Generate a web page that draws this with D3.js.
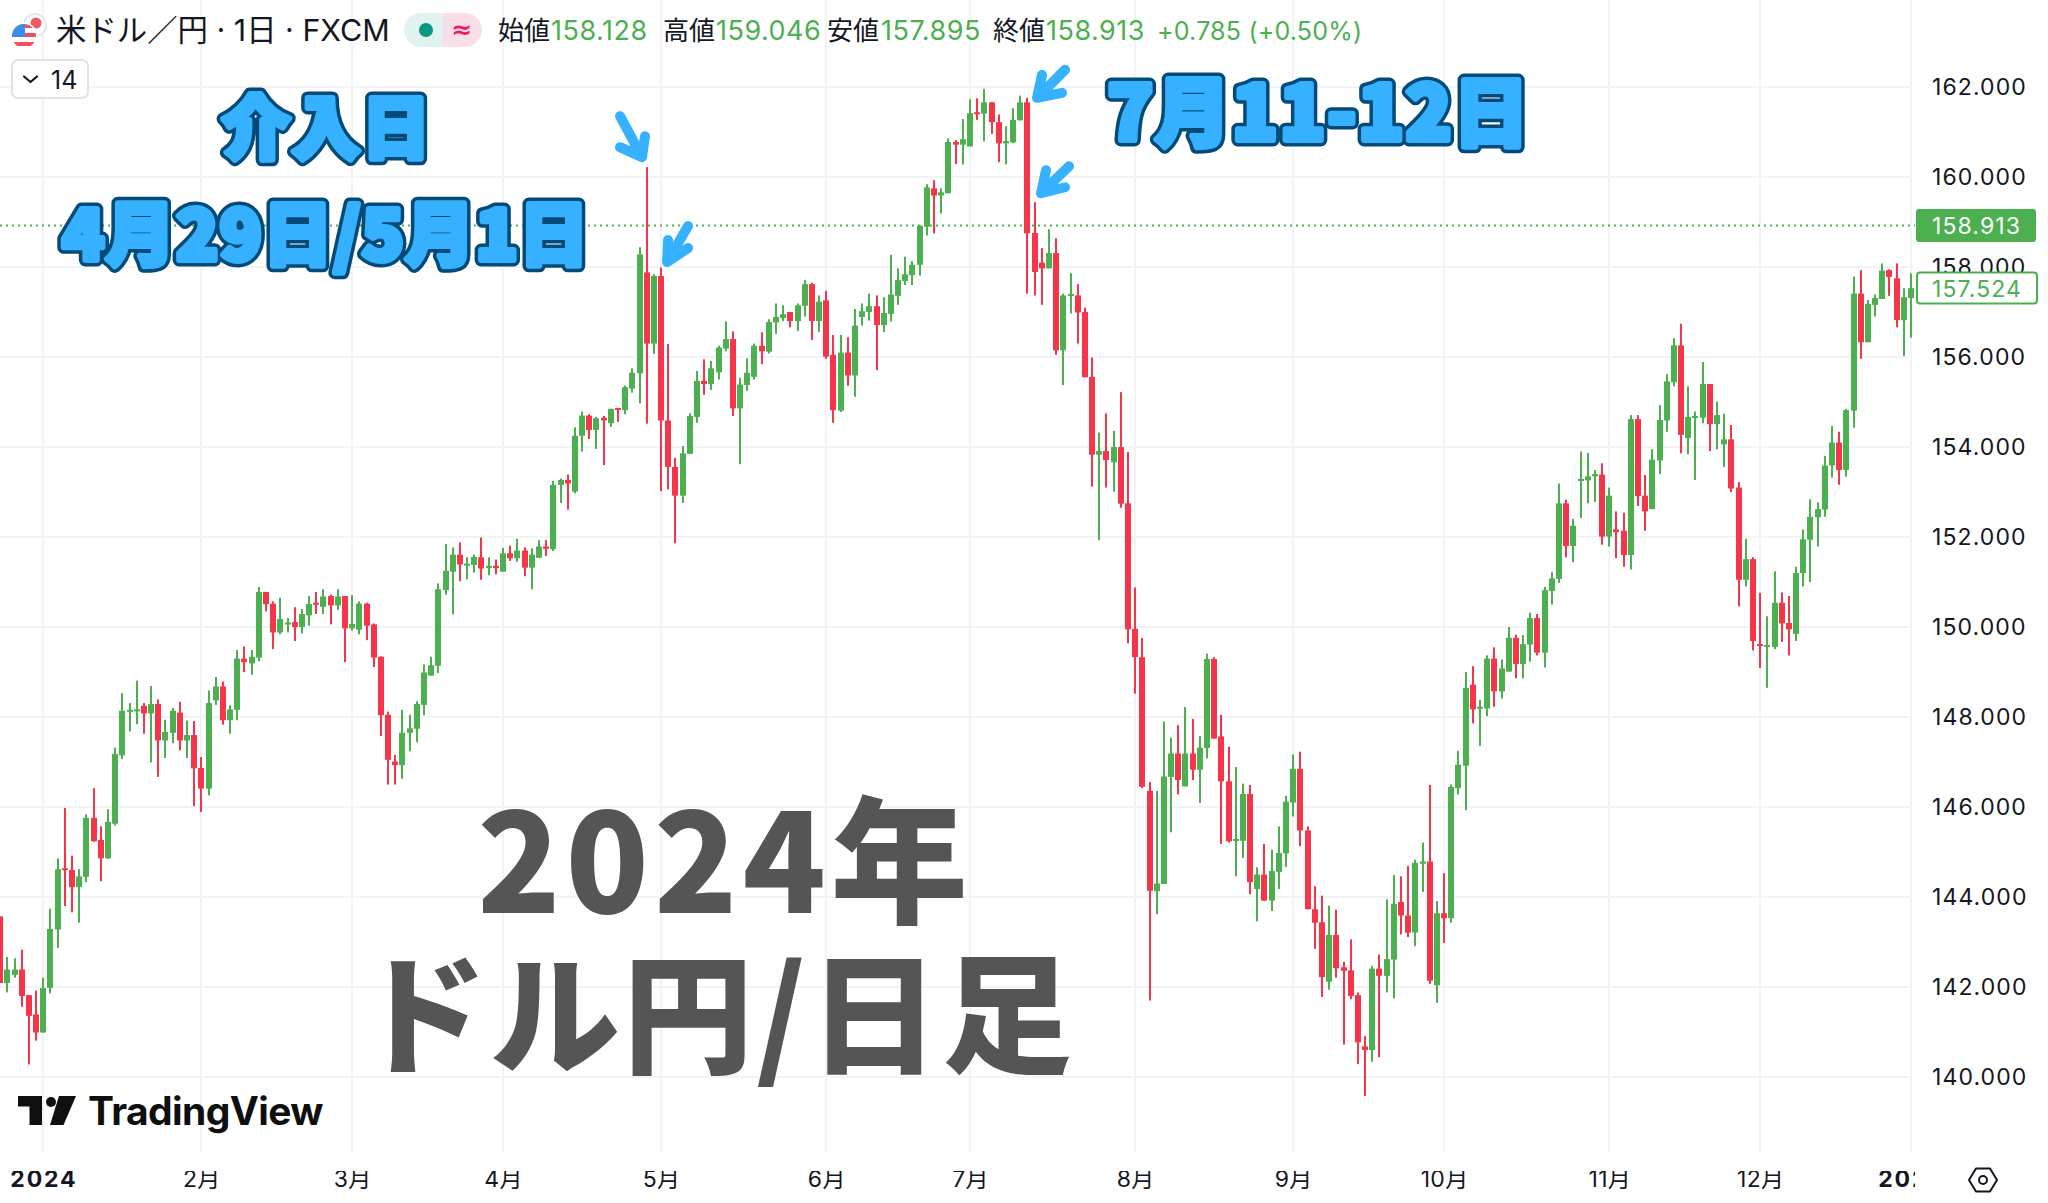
<!DOCTYPE html>
<html lang="ja">
<head>
<meta charset="utf-8">
<title>米ドル／円 2024年 日足</title>
<script src="https://cdn.jsdelivr.net/npm/d3@7/dist/d3.min.js"></script>
<style>
html,body{margin:0;padding:0;background:#fff;overflow:hidden}
svg{display:block}
text{font-family:Inter,"Noto Sans CJK JP",sans-serif}
</style>
</head>
<body>
<svg id="chart" width="2048" height="1203"></svg>
<script>
const opens = [
143.56,142.08,142.26,142.38,141.81,141.38,140.98,141.97,143.27,144.63,
144.59,144.21,144.44,145.75,145.26,144.85,145.62,147.14,148.12,148.13,
148.24,148.07,148.28,147.47,147.64,148.09,147.47,147.59,146.86,146.40,
148.36,148.67,147.92,148.15,149.29,149.18,149.31,150.77,150.51,149.87,
150.05,150.10,149.99,150.25,150.53,150.44,150.68,150.47,150.68,149.96,
149.93,150.51,150.05,149.33,148.04,147.00,146.92,147.64,147.73,148.26,
148.91,149.13,150.81,151.22,151.60,151.37,151.37,151.54,151.30,151.35,
151.22,151.63,151.52,151.69,151.31,151.53,151.78,151.72,153.15,153.26,
153.00,154.24,154.69,154.37,154.64,154.52,154.86,154.81,155.29,155.63,
157.87,156.29,157.79,154.58,153.55,152.91,153.84,154.66,155.46,155.39,
155.65,156.18,156.39,154.85,155.37,155.55,156.24,156.11,156.76,156.86,
156.99,156.79,157.13,157.61,156.79,157.25,156.04,154.80,156.09,155.58,
156.88,156.99,157.12,156.70,156.95,157.35,157.68,157.81,158.04,158.89,
159.74,159.58,159.63,160.77,160.71,160.67,161.43,161.40,161.65,161.21,
160.74,160.76,161.25,161.65,158.75,158.09,157.96,158.30,156.14,157.36,
157.36,156.99,155.55,153.82,153.90,153.65,153.99,152.74,149.95,149.32,
146.35,144.12,144.28,146.66,147.18,146.45,147.18,146.82,147.30,149.28,
147.56,146.56,145.24,145.24,146.28,144.17,144.49,143.91,144.55,144.96,
146.09,146.84,145.47,143.72,143.43,142.11,143.15,142.43,142.36,141.81,
140.67,140.59,142.40,142.24,142.60,143.88,143.58,143.20,144.73,144.78,
142.03,143.63,143.52,146.41,146.91,148.71,148.18,148.18,149.29,148.56,
149.00,149.75,149.17,149.60,150.19,149.42,150.79,151.06,152.74,151.79,
153.24,153.25,153.34,153.38,152.00,152.16,152.13,151.59,154.61,152.91,
152.61,153.69,154.58,155.43,156.25,154.19,154.64,154.64,155.39,154.50,
154.05,154.16,153.09,151.04,151.50,149.61,149.55,149.55,150.53,150.08,
149.84,151.19,151.93,152.43,152.60,153.58,154.09,153.48,154.80,157.40,
156.32,157.15,157.28,157.92,157.74,156.81,157.30];
const highs = [
143.56,142.66,142.63,142.82,141.81,141.91,142.20,143.73,144.85,145.97,
144.91,144.61,145.83,146.41,145.56,145.94,147.31,148.52,148.30,148.80,
148.30,148.68,148.38,147.93,148.19,148.33,147.91,147.90,147.10,148.58,
148.88,148.78,148.25,149.48,149.56,149.48,150.88,150.77,150.56,150.64,
150.19,150.43,150.39,150.68,150.77,150.83,150.71,150.83,150.68,150.70,
150.56,150.53,150.07,149.34,148.11,147.15,148.15,148.04,148.34,149.16,
149.33,150.96,151.83,151.76,151.87,151.54,151.60,151.98,151.54,151.49,
151.75,151.80,151.95,151.76,151.74,151.92,151.92,153.24,153.29,153.38,
154.43,154.78,154.72,154.66,154.68,154.84,154.86,155.36,155.74,158.43,
160.21,157.83,157.98,156.28,153.75,154.01,154.74,155.68,155.94,155.90,
156.24,156.78,156.56,155.53,155.96,156.29,156.54,156.83,157.18,157.14,
156.99,157.18,157.70,157.64,157.36,157.46,156.48,156.48,156.43,157.06,
157.18,157.40,157.36,157.32,158.26,157.96,158.22,158.12,158.91,159.83,
159.92,159.74,160.85,160.81,161.28,161.72,161.74,161.95,161.66,161.38,
161.12,161.52,161.80,161.75,159.43,158.41,158.83,158.63,157.40,157.85,
157.61,157.09,155.98,154.31,154.74,154.35,155.21,153.88,150.87,149.75,
146.55,146.35,147.89,147.53,147.81,148.21,147.95,147.57,149.40,149.32,
148.04,147.33,146.88,146.51,146.48,144.65,145.17,145.04,145.56,146.24,
147.16,147.22,145.56,144.23,144.02,143.80,143.71,142.55,143.05,141.87,
140.90,142.46,142.71,143.94,144.48,144.45,144.68,144.82,145.20,146.48,
143.90,144.52,146.49,147.24,148.99,149.12,148.37,149.36,149.54,149.27,
149.99,149.82,149.81,150.31,150.28,150.88,151.21,153.18,152.82,152.39,
153.89,153.86,153.48,153.63,153.09,152.56,152.53,154.70,154.70,153.37,
153.94,154.92,155.61,156.41,156.73,155.34,154.78,155.88,155.39,155.00,
154.73,154.48,153.21,151.95,151.54,150.75,150.23,151.23,150.76,150.68,
151.33,152.16,152.83,152.76,153.79,154.46,154.33,154.84,157.78,157.92,
157.26,157.38,158.07,157.94,158.07,157.52,157.85];
const lows = [
142.08,141.87,142.20,141.55,140.27,140.80,140.98,141.85,142.86,143.79,
143.65,143.42,144.32,145.22,144.34,144.84,145.58,147.06,147.67,147.83,
147.62,146.98,146.66,147.08,147.41,147.25,147.08,146.01,145.88,146.25,
148.26,147.82,147.62,147.92,148.99,148.93,149.23,150.34,149.50,149.83,
149.87,149.68,149.85,150.02,150.28,150.28,150.05,150.37,149.21,149.91,
149.83,149.70,149.10,147.57,146.49,146.49,146.62,147.23,147.43,148.03,
148.91,148.97,150.71,150.27,151.01,151.05,151.20,151.04,151.14,151.16,
151.22,151.46,151.44,151.12,150.83,151.53,151.57,151.68,152.75,152.60,
152.96,153.89,154.17,153.95,153.59,154.44,154.55,154.72,155.20,154.96,
154.51,156.06,153.01,153.05,151.85,152.75,153.84,154.53,155.15,155.26,
155.49,156.12,154.68,153.61,155.24,155.49,155.83,156.07,156.50,156.79,
156.65,156.57,156.89,156.37,156.55,155.95,154.53,154.77,155.35,155.11,
156.69,156.80,155.70,156.55,156.78,157.15,157.59,157.59,157.80,158.69,
158.74,159.18,159.63,160.28,160.27,160.67,161.26,160.78,160.95,160.32,
160.27,160.74,161.25,157.40,157.36,157.15,157.96,156.04,155.37,156.96,
156.29,155.54,153.11,151.92,153.09,153.00,152.64,149.63,148.51,146.41,
141.69,143.61,144.28,145.43,146.27,146.45,146.59,146.08,147.07,147.51,
145.17,145.20,144.45,144.86,144.05,143.45,143.91,143.68,144.17,144.66,
145.78,145.12,143.72,142.84,141.77,141.93,142.20,140.71,141.72,140.28,
139.57,140.33,140.43,141.87,141.74,143.16,143.10,142.90,144.10,142.06,
141.64,142.97,143.42,146.27,145.92,147.85,147.35,148.01,148.22,148.40,
149.00,148.85,148.85,149.22,149.36,149.09,150.49,150.97,151.54,151.43,
152.41,152.74,152.77,151.82,151.78,151.52,151.33,151.27,152.68,152.13,
152.61,153.39,154.33,155.34,153.85,153.83,153.26,154.52,153.90,153.94,
153.55,152.99,150.45,150.89,149.47,149.08,148.64,149.50,149.66,149.36,
149.68,150.89,150.99,151.78,152.44,153.31,153.15,153.33,154.42,155.95,
156.32,156.89,157.28,157.35,156.65,156.01,156.42];
const closes = [
142.08,142.38,142.38,141.79,141.35,140.98,141.97,143.28,144.61,144.60,
144.21,144.45,145.75,145.23,144.85,145.66,147.17,148.13,148.15,148.16,
148.07,148.28,147.47,147.66,148.13,147.47,147.59,146.85,146.40,148.30,
148.67,147.92,148.16,149.29,149.21,149.33,150.77,150.50,149.87,150.17,
150.09,149.99,150.28,150.50,150.50,150.67,150.47,150.67,149.96,150.06,
150.51,150.02,149.31,148.03,147.04,146.92,147.64,147.74,148.28,148.98,
149.14,150.83,151.24,151.60,151.38,151.40,151.55,151.29,151.35,151.30,
151.63,151.52,151.69,151.31,151.60,151.78,151.73,153.15,153.26,153.18,
154.24,154.69,154.37,154.63,154.58,154.84,154.84,155.32,155.64,158.27,
156.29,157.79,154.58,153.55,152.91,153.85,154.68,155.46,155.39,155.74,
156.20,156.39,154.85,155.38,155.64,156.24,156.12,156.77,156.88,156.94,
156.79,157.14,157.61,156.79,157.22,156.00,154.81,156.09,155.58,156.69,
157.01,157.12,156.70,156.97,157.38,157.70,157.83,158.04,158.91,159.76,
159.58,159.65,160.77,160.71,160.83,161.41,161.40,161.65,161.21,160.74,
160.79,161.26,161.65,158.74,157.88,157.96,158.30,156.14,157.36,157.39,
156.98,155.54,153.82,153.90,153.70,153.99,152.73,149.94,149.32,146.44,
144.13,144.29,146.67,147.18,146.59,147.18,146.82,147.31,149.28,147.51,
146.56,145.23,145.28,146.28,144.32,144.49,143.91,144.57,144.97,146.11,
146.84,145.47,143.72,143.42,142.21,143.15,142.41,142.35,141.79,140.76,
140.59,142.40,142.24,142.61,143.84,143.58,143.20,144.75,144.78,142.13,
143.63,143.52,146.44,146.93,148.64,148.16,148.22,149.29,148.56,149.07,
149.75,149.17,149.61,150.19,149.42,150.81,151.07,152.74,151.79,152.24,
153.28,153.34,153.39,152.00,152.91,152.10,151.59,154.61,152.90,152.56,
153.71,154.59,155.45,156.25,154.26,154.66,154.68,155.39,154.50,154.70,
154.16,153.07,151.04,151.50,149.68,149.57,149.59,150.53,150.07,149.94,
151.19,151.94,152.44,152.61,153.58,154.09,153.48,154.81,157.40,156.32,
157.17,157.30,157.91,157.77,156.81,157.32,157.52];

// index of the first trading bar of each month, and its axis label
const monthBars   = [6,28,49,70,92,115,135,158,180,201,224,245,266];
const monthLabels = ["2024","2月","3月","4月","5月","6月","7月","8月","9月","10月","11月","12月","2025"];
const priceTicks  = [140,142,144,146,148,150,152,154,156,158,160,162];
const lastPrice = 158.913;
const viewPrice = 157.524;
const legendLabels = ["始値","高値","安値","終値"];
const legendValues = ["158.128","159.046","157.895","158.913"];
const legendChange = ["+0.785","(+0.50%)"];

const GREEN="#4CAF50", RED="#F5364A", GRID="#F2F3F4", INK="#131722", BLUE="#36B1FF", NAVY="#034A78", TITLE="#555555";
const PANE_R=1915, PANE_B=1152;

const svg=d3.select("#chart");
const x=d3.scaleLinear().domain([6,266]).range([43.3,1911]);
const y=d3.scaleLinear().domain([140,162]).range([1076.6,86.6]);
svg.append("rect").attr("width",2048).attr("height",1203).attr("fill","#fff");
const defs=svg.append("defs");
defs.append("clipPath").attr("id","pane").append("rect").attr("width",PANE_R).attr("height",1203);

// grid
const grid=svg.append("g");
grid.selectAll(".gh").data(priceTicks).join("rect").attr("class","gh")
  .attr("x",0).attr("width",PANE_R-2).attr("y",d=>Math.round(y(d))-1).attr("height",2).attr("fill",GRID);
grid.selectAll(".gv").data(monthBars).join("rect").attr("class","gv")
  .attr("x",d=>Math.round(x(d))-1).attr("width",2).attr("y",0).attr("height",PANE_B).attr("fill",GRID);

// current price line
svg.append("line").attr("x1",0).attr("x2",PANE_R).attr("y1",y(lastPrice)).attr("y2",y(lastPrice))
  .attr("stroke",GREEN).attr("stroke-width",2).attr("stroke-dasharray","2 4");

// candles
const bars=opens.map((o,i)=>({i,o,h:highs[i],l:lows[i],c:closes[i]}));
const candles=svg.append("g").attr("clip-path","url(#pane)");
const color=d=>d.c>=d.o?GREEN:RED;
candles.selectAll(".wick").data(bars).join("rect").attr("class","wick")
  .attr("x",d=>Math.round(x(d.i))-1).attr("width",2)
  .attr("y",d=>y(d.h)).attr("height",d=>y(d.l)-y(d.h)).attr("fill",color);
candles.selectAll(".body").data(bars).join("rect").attr("class","body")
  .attr("x",d=>Math.round(x(d.i))-3).attr("width",6)
  .attr("y",d=>y(Math.max(d.o,d.c)))
  .attr("height",d=>Math.max(2,Math.abs(y(d.o)-y(d.c)))).attr("fill",color);

// big title
const titleLines=[{t:"2024年",cx:725,by:913,fs:137,ls:5},{t:"ドル円/日足",cx:716,by:1063,fs:130,ls:3}];
svg.selectAll(".big").data(titleLines).join("text").attr("class","big")
  .attr("x",d=>d.cx).attr("y",d=>d.by).attr("text-anchor","middle")
  .attr("fill",TITLE).attr("font-size",d=>d.fs).attr("font-weight",900)
  .style("letter-spacing",d=>d.ls+"px")
  .style("font-family",'"Noto Sans CJK JP"').text(d=>d.t);

// annotations
const notes=[
 {t:"介入日",cx:327,by:153,fs:68,ls:2},
 {t:"4月29日/5月1日",cx:326,by:260,fs:69,ls:1.5},
 {t:"7月11-12日",cx:1319,by:140,fs:75,ls:2}];
const noteG=svg.append("g").attr("font-weight",800).attr("text-anchor","middle");
[[NAVY,13],[BLUE,6]].forEach(([col,sw])=>{
  noteG.selectAll(null).data(notes).join("text")
   .attr("x",d=>d.cx).attr("y",d=>d.by).attr("font-size",d=>d.fs)
   .attr("fill",col).attr("stroke",col).attr("stroke-width",sw).attr("stroke-linejoin","round")
   .style("letter-spacing",d=>d.ls+"px")
   .style("font-family",'"Noto Sans CJK JP"').text(d=>d.t);
});

// arrows pointing at bars
const arrows=[
 {bar:90,price:160.21,dx:-4.7,dy:-10,tail:[-22,-41],a:[-22,-10],b:[3,-21]},
 {bar:92,price:157.98,dx:6,dy:-5.5,tail:[21,-36],a:[1,-22],b:[21,-14]},
 {bar:143,price:161.75,dx:9.6,dy:0,tail:[28,-28],a:[5,-23],b:[25,-5]},
 {bar:144,price:159.43,dx:6.4,dy:-9,tail:[28,-27],a:[5,-23],b:[24,-6]}];
svg.append("g").selectAll("path").data(arrows).join("path")
 .attr("d",d=>{const X=x(d.bar)+d.dx,Y=y(d.price)+d.dy;
   return `M${X+d.tail[0]},${Y+d.tail[1]}L${X},${Y}M${X+d.a[0]},${Y+d.a[1]}L${X},${Y}L${X+d.b[0]},${Y+d.b[1]}`;})
 .attr("fill","none").attr("stroke",BLUE).attr("stroke-width",10).attr("stroke-linecap","round").attr("stroke-linejoin","round");

// price axis
const priceAxis=d3.axisRight(y).tickValues(priceTicks).tickSize(0).tickPadding(0).tickFormat(d3.format(".3f"));
const pa=svg.append("g").attr("transform","translate(1932,1)").call(priceAxis);
pa.select(".domain").remove();
pa.selectAll("text").attr("fill",INK).attr("font-size",23).style("letter-spacing","1.1px").style("font-family","Inter");

// time axis
const timeAxis=d3.axisBottom(x).tickValues(monthBars).tickSize(0).tickPadding(0).tickFormat((d,i)=>monthLabels[i]);
const ta=svg.append("g").attr("transform","translate(0,1171)").attr("clip-path","url(#pane)").call(timeAxis);
ta.select(".domain").remove();
ta.selectAll("text").attr("fill",INK).attr("font-size",23)
  .attr("font-weight",(d,i)=>(i===0||i===12)?700:400).style("letter-spacing",(d,i)=>(i===0||i===12)?"1.8px":"0.3px")
  .style("font-family",'Inter,"Noto Sans CJK JP"');

// price labels
const lab=svg.append("g");
lab.append("rect").attr("x",1916).attr("y",y(lastPrice)-16.5).attr("width",120).attr("height",33).attr("rx",3).attr("fill",GREEN);
lab.append("text").attr("x",1932).attr("y",y(lastPrice)).attr("dy","0.37em").attr("fill","#fff").attr("font-size",23).style("letter-spacing","1.1px").text(d3.format(".3f")(lastPrice));
lab.append("rect").attr("x",1917).attr("y",y(viewPrice)-15.5).attr("width",120).attr("height",31).attr("rx",3).attr("fill","#fff").attr("stroke",GREEN).attr("stroke-width",2);
lab.append("text").attr("x",1932).attr("y",y(viewPrice)).attr("dy","0.37em").attr("fill",GREEN).attr("font-size",23).style("letter-spacing","1.1px").text(d3.format(".3f")(viewPrice));

// header
const head=svg.append("g");
head.append("text").attr("x",56).attr("y",41).attr("font-size",30.4).attr("fill",INK).text("米ドル／円 · 1日 · FXCM");
// flag badge
head.append("circle").attr("cx",35).attr("cy",25).attr("r",11).attr("fill","#fff").attr("stroke","#E6E8EE").attr("stroke-width",2);
head.append("circle").attr("cx",36).attr("cy",23).attr("r",5.5).attr("fill","#F05A64");
head.append("circle").attr("cx",24).attr("cy",36).attr("r",13.5).attr("fill","#fff");
defs.append("clipPath").attr("id","flag").append("circle").attr("cx",24).attr("cy",36).attr("r",12);
const flag=head.append("g").attr("clip-path","url(#flag)");
flag.append("rect").attr("x",12).attr("y",24).attr("width",24).attr("height",24).attr("fill","#fff");
[24,33,42].forEach(v=>flag.append("rect").attr("x",12).attr("y",v).attr("width",24).attr("height",4).attr("fill","#F0505A"));
flag.append("rect").attr("x",12).attr("y",24).attr("width",13).attr("height",13).attr("fill","#3C8CF0");
// pills
defs.append("clipPath").attr("id","pill").append("rect").attr("x",404).attr("y",13).attr("width",78).attr("height",34).attr("rx",17);
const pill=head.append("g").attr("clip-path","url(#pill)");
pill.append("rect").attr("x",404).attr("y",13).attr("width",39).attr("height",34).attr("fill","#E1F3F0");
pill.append("rect").attr("x",443).attr("y",13).attr("width",39).attr("height",34).attr("fill","#FBDFE8");
head.append("circle").attr("cx",426).attr("cy",30).attr("r",7).attr("fill","#089981");
head.append("text").attr("x",462).attr("y",38).attr("text-anchor","middle").attr("font-size",25).attr("font-weight",700).attr("fill","#E91E63").style("font-family","'DejaVu Sans'").text("≈");
// OHLC legend
const lx=[498,663,827,993], vx=[551,716,881,1046];
head.selectAll(".ll").data(legendLabels).join("text").attr("class","ll").attr("x",(d,i)=>lx[i]).attr("y",40).attr("font-size",26).attr("fill",INK).text(d=>d);
head.selectAll(".lv").data(legendValues).join("text").attr("class","lv").attr("x",(d,i)=>vx[i]).attr("y",40).attr("font-size",27).attr("fill",GREEN).style("letter-spacing","0.5px").text(d=>d);
head.append("text").attr("x",1157).attr("y",40).attr("font-size",25).attr("fill",GREEN).style("letter-spacing","0.2px").text(legendChange.join(" "));

// interval button
head.append("rect").attr("x",12).attr("y",60).attr("width",76).attr("height",38).attr("rx",6).attr("fill","#fff").attr("stroke","#E0E3EB").attr("stroke-width",2);
head.append("path").attr("d","M24,76.5L30.5,82L37,76.5").attr("fill","none").attr("stroke",INK).attr("stroke-width",2.2).attr("stroke-linecap","round").attr("stroke-linejoin","round");
head.append("text").attr("x",51).attr("y",89).attr("font-size",25).attr("fill",INK).text("14");

// TradingView logo
const logo=svg.append("g");
logo.append("path").attr("d","M18,1096H42V1125H29.5V1106.5H18Z").attr("fill","#0F0F0F");
logo.append("circle").attr("cx",51).attr("cy",1102).attr("r",5).attr("fill","#0F0F0F");
logo.append("path").attr("d","M59,1096H76L63.5,1125H50Z").attr("fill","#0F0F0F");
logo.append("text").attr("x",88).attr("y",1125).attr("font-size",39).attr("font-weight",700).attr("fill","#0F0F0F").style("letter-spacing","-0.6px").text("TradingView");

// settings icon
const gear=svg.append("g").attr("fill","none").attr("stroke",INK).attr("stroke-width",2);
gear.append("path").attr("d","M1969,1180L1976,1168.5H1990L1997,1180L1990,1191.5H1976Z").attr("stroke-linejoin","round");
gear.append("circle").attr("cx",1983).attr("cy",1180).attr("r",4);
</script>
</body>
</html>
